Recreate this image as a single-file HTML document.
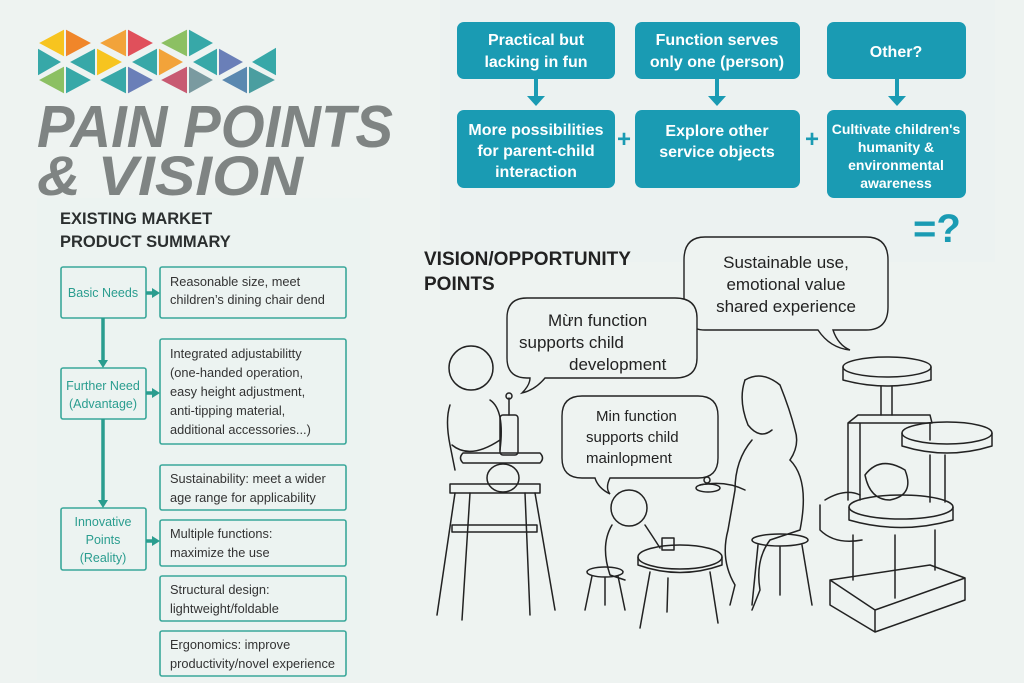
<!DOCTYPE html>
<html><head><meta charset="utf-8"><style>
html,body{margin:0;padding:0;background:#eef3f1;}
svg{display:block;}
</style></head><body>
<svg width="1024" height="683" viewBox="0 0 1024 683" xmlns="http://www.w3.org/2000/svg" font-family="Liberation Sans, sans-serif">
<rect width="1024" height="683" fill="#eef3f1"/>
<rect x="440" y="0" width="555" height="262" fill="#ecf2f1"/>
<rect x="37" y="198" width="333" height="482" fill="#ecf3f1"/>
<!-- logo -->
<g stroke="#eef3f1" stroke-width="2">
<polygon points="37,43 65,28 65,58" fill="#f7c41f"/><polygon points="65,28 93,43 65,58" fill="#f0862a"/>
<polygon points="98,43 127,28 127,58" fill="#f2a33a"/><polygon points="127,28 155,43 127,58" fill="#e0505b"/>
<polygon points="159,43 188,28 188,58" fill="#8cc063"/><polygon points="188,28 215,43 188,58" fill="#37a8a8"/>
<polygon points="37,47 37,77 63,62" fill="#37a8a8"/>
<polygon points="68,62 96,47 96,77" fill="#37a8a8"/><polygon points="96,47 124,62 96,77" fill="#f7c41f"/>
<polygon points="130,62 158,47 158,77" fill="#37a8a8"/><polygon points="158,47 185,62 158,77" fill="#f2a33a"/>
<polygon points="191,62 218,47 218,77" fill="#37a8a8"/><polygon points="218,47 245,62 218,77" fill="#6a7fb8"/>
<polygon points="250,62 277,46 277,77" fill="#37a8a8"/>
<polygon points="37,80 65,65 65,95" fill="#8cc063"/><polygon points="65,65 93,80 65,95" fill="#37a8a8"/>
<polygon points="98,80 127,65 127,95" fill="#37a8a8"/><polygon points="127,65 155,80 127,95" fill="#6a7fb8"/>
<polygon points="159,80 188,65 188,95" fill="#c85a72"/><polygon points="188,65 215,80 188,95" fill="#7a9aa0"/>
<polygon points="220,80 248,65 248,95" fill="#5a88b0"/><polygon points="248,65 277,80 248,95" fill="#4a9ea0"/>
</g>
<text x="37" y="147" font-size="59" font-weight="bold" font-style="italic" fill="#7f8483" textLength="356" lengthAdjust="spacingAndGlyphs">PAIN POINTS</text>
<text x="37" y="195" font-size="56" font-weight="bold" font-style="italic" fill="#7f8483" textLength="266" lengthAdjust="spacingAndGlyphs">&amp; VISION</text>
<!-- left chart -->
<text x="60" y="224" font-size="16.5" font-weight="bold" fill="#2b2f2f">EXISTING MARKET</text>
<text x="60" y="247" font-size="16.5" font-weight="bold" fill="#2b2f2f">PRODUCT SUMMARY</text>
<g fill="none" stroke="#3aa89a" stroke-width="1.6">
<rect x="61" y="267" width="85" height="51" rx="2"/>
<rect x="61" y="368" width="85" height="51" rx="2"/>
<rect x="61" y="508" width="85" height="62" rx="2"/>
<rect x="160" y="267" width="186" height="51" rx="2"/>
<rect x="160" y="339" width="186" height="105" rx="2"/>
<rect x="160" y="465" width="186" height="45" rx="2"/>
<rect x="160" y="520" width="186" height="46" rx="2"/>
<rect x="160" y="576" width="186" height="45" rx="2"/>
<rect x="160" y="631" width="186" height="45" rx="2"/>
</g>
<g stroke="#2a9d8f" stroke-width="3.5" fill="#2a9d8f">
<line x1="103" y1="318" x2="103" y2="362"/><polygon points="98,360 108,360 103,368" stroke="none"/>
<line x1="103" y1="419" x2="103" y2="502"/><polygon points="98,500 108,500 103,508" stroke="none"/>
<line x1="146" y1="293" x2="153" y2="293"/><polygon points="152,288 160,293 152,298" stroke="none"/>
<line x1="146" y1="393" x2="153" y2="393"/><polygon points="152,388 160,393 152,398" stroke="none"/>
<line x1="146" y1="541" x2="153" y2="541"/><polygon points="152,536 160,541 152,546" stroke="none"/>
</g>
<g font-size="12.5" fill="#2a9d8f" text-anchor="middle">
<text x="103" y="297">Basic Needs</text>
<text x="103" y="390">Further Need</text><text x="103" y="408">(Advantage)</text>
<text x="103" y="526">Innovative</text><text x="103" y="544">Points</text><text x="103" y="562">(Reality)</text>
</g>
<g font-size="12.8" fill="#333">
<text x="170" y="286">Reasonable size, meet</text><text x="170" y="304">children’s dining chair dend</text>
<text x="170" y="358">Integrated adjustabilitty</text><text x="170" y="377">(one-handed operation,</text><text x="170" y="396">easy height adjustment,</text><text x="170" y="415">anti-tipping material,</text><text x="170" y="434">additional accessories...)</text>
<text x="170" y="483">Sustainability: meet a wider</text><text x="170" y="502">age range for applicability</text>
<text x="170" y="538">Multiple functions:</text><text x="170" y="557">maximize the use</text>
<text x="170" y="594">Structural design:</text><text x="170" y="613">lightweight/foldable</text>
<text x="170" y="649">Ergonomics: improve</text><text x="170" y="668">productivity/novel experience</text>
</g>
<!-- top right -->
<g fill="#1a9bb3">
<rect x="457" y="22" width="158" height="57" rx="7"/>
<rect x="635" y="22" width="165" height="57" rx="7"/>
<rect x="827" y="22" width="139" height="57" rx="7"/>
<rect x="457" y="110" width="158" height="78" rx="7"/>
<rect x="635" y="110" width="165" height="78" rx="7"/>
<rect x="827" y="110" width="139" height="88" rx="7"/>
<rect x="534" y="79" width="4" height="19"/><polygon points="527,96 545,96 536,106"/>
<rect x="715" y="79" width="4" height="19"/><polygon points="708,96 726,96 717,106"/>
<rect x="895" y="79" width="4" height="19"/><polygon points="888,96 906,96 897,106"/>
</g>
<g fill="#1a9bb3" font-weight="bold" font-size="24"><text x="617" y="147">+</text><text x="805" y="147">+</text>
<text x="913" y="242" font-size="40">=?</text></g>
<g fill="#fff" font-size="16" text-anchor="middle" font-weight="bold">
<text x="536" y="45">Practical but</text><text x="536" y="67">lacking in fun</text>
<text x="717" y="45">Function serves</text><text x="717" y="67">only one (person)</text>
<text x="896" y="57">Other?</text>
<text x="536" y="135">More possibilities</text><text x="536" y="156">for parent-child</text><text x="536" y="177">interaction</text>
<text x="717" y="136">Explore other</text><text x="717" y="157">service objects</text>
<text x="896" y="134" font-size="14">Cultivate children's</text><text x="896" y="152" font-size="14">humanity &amp;</text><text x="896" y="170" font-size="14">environmental</text><text x="896" y="188" font-size="14">awareness</text>
</g>
<!-- vision -->
<text x="424" y="265" font-size="19" font-weight="bold" fill="#222">VISION/OPPORTUNITY</text>
<text x="424" y="290" font-size="19" font-weight="bold" fill="#222">POINTS</text>
<g fill="#eef3f1" stroke="#222" stroke-width="1.4">
<path d="M705,237 H866 Q888,237 888,260 V307 Q888,330 866,330 H833 Q838,345 850,350 Q830,348 818,330 H705 Q684,330 684,307 V260 Q684,237 705,237 Z"/>
<path d="M527,298 H675 Q697,298 697,318 V358 Q697,378 675,378 H545 Q535,390 522,393 Q530,385 530,378 H527 Q507,378 507,358 V318 Q507,298 527,298 Z"/>
<path d="M582,396 H698 Q718,396 718,416 V458 Q718,478 698,478 H610 Q605,488 610,494 Q598,488 595,478 H582 Q562,478 562,458 V416 Q562,396 582,396 Z"/>
</g>
<g font-size="17" fill="#222">
<text x="786" y="268" text-anchor="middle">Sustainable use,</text><text x="786" y="290" text-anchor="middle">emotional value</text><text x="786" y="312" text-anchor="middle">shared experience</text>
<text x="548" y="326">Mừn function</text><text x="519" y="348">supports child</text><text x="569" y="370">development</text>
<text x="596" y="421" font-size="15">Min function</text><text x="586" y="442" font-size="15">supports child</text><text x="586" y="463" font-size="15">mainlopment</text>
</g>
<!-- sketch -->
<g fill="none" stroke="#222" stroke-width="1.5" stroke-linejoin="round" stroke-linecap="round">
<circle cx="471" cy="368" r="22"/>
<path d="M450,405 Q445,420 450,445 L455,470 M490,400 Q505,410 500,450"/>
<path d="M452,445 Q470,460 500,440"/>
<rect x="500" y="415" width="18" height="40" rx="3"/><path d="M509,415 V398"/><circle cx="509" cy="396" r="3"/>
<path d="M463,453 H540 Q545,458 540,463 H463 Q458,458 463,453 Z"/>
<path d="M450,484 H540 V493 H450 Z"/>
<path d="M455,493 L437,615 M470,493 L462,620 M525,493 L530,615 M535,493 L555,610"/>
<path d="M452,525 H537 V532 H452 Z"/>
<ellipse cx="503" cy="478" rx="16" ry="14"/>
<ellipse cx="680" cy="557" rx="42" ry="12"/><path d="M638,557 V565 Q680,580 722,565 V557"/>
<path d="M650,572 L640,628 M710,572 L718,623 M668,578 L667,612"/>
<circle cx="629" cy="508" r="18"/>
<path d="M612,525 Q600,545 610,575 L625,580 M645,525 Q655,540 660,548"/>
<rect x="662" y="538" width="12" height="12"/>
<ellipse cx="605" cy="572" rx="18" ry="5"/><path d="M592,576 L585,610 M618,576 L625,610 M605,578 L605,605"/>
<path d="M745,380 Q762,370 780,385 Q790,410 795,430 Q800,445 790,460"/>
<path d="M745,380 Q738,400 748,425 Q760,440 772,430"/>
<path d="M752,440 Q735,460 735,490 L728,530 Q720,560 735,585 L730,605 M790,460 Q810,480 800,530 L770,540 Q755,560 760,590 L752,610"/>
<path d="M700,485 Q725,480 745,490"/><ellipse cx="708" cy="488" rx="12" ry="4"/><circle cx="707" cy="480" r="3"/>
<ellipse cx="780" cy="540" rx="28" ry="6"/><path d="M758,545 L752,605 M802,545 L812,605 M780,547 L780,595"/>
<ellipse cx="887" cy="367" rx="44" ry="10"/><path d="M843,367 V380 Q887,392 931,380 V367"/>
<path d="M881,386 V415 M892,386 V415"/>
<path d="M848,423 L858,415 H930 L932,423 Z M848,423 V500 M860,423 V500 M930,423 V440"/>
<ellipse cx="947" cy="433" rx="45" ry="11"/><path d="M902,433 V446 Q947,460 992,446 V433"/>
<path d="M930,455 V502 M945,455 V502"/>
<path d="M865,475 Q880,455 905,470 Q915,495 890,500 Q870,500 865,475 Z"/>
<ellipse cx="901" cy="507" rx="52" ry="12"/><path d="M849,507 V520 Q901,535 953,520 V507"/>
<path d="M825,500 Q845,488 860,495 M820,505 V530 Q835,545 862,540"/>
<path d="M853,535 V580 M895,535 V598 M935,530 V570"/>
<path d="M830,580 L930,565 L965,578 V600 L875,632 L830,605 Z M875,610 V632 M830,580 L875,610 L965,578"/>
</g>
</svg>
</body></html>
